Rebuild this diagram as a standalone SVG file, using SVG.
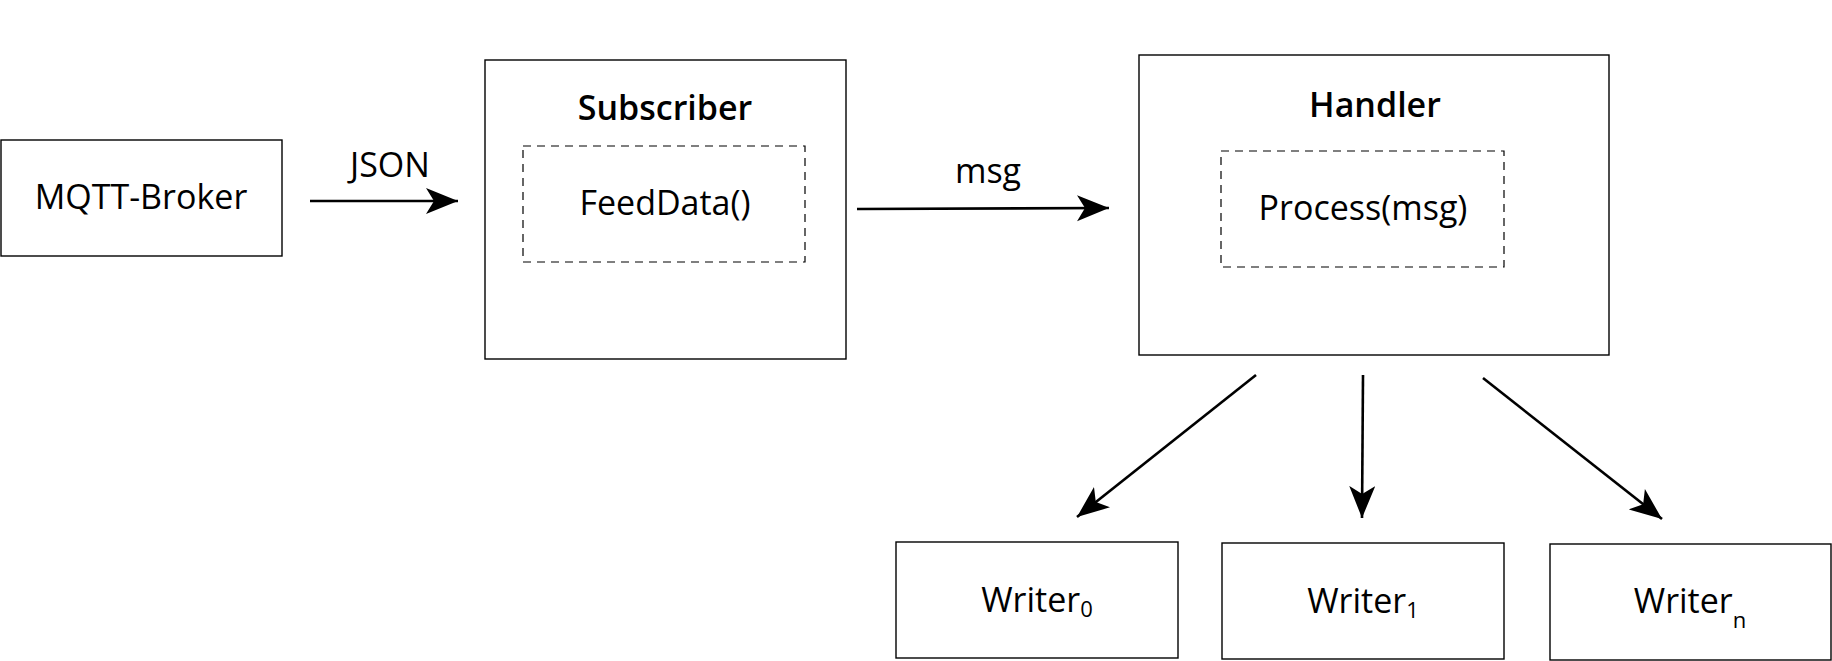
<svg xmlns="http://www.w3.org/2000/svg" width="1832" height="661" viewBox="0 0 1832 661">
<style>
.box{fill:#fff;stroke:#000;stroke-width:1.4}
.dash{fill:none;stroke:#000;stroke-width:1.2;stroke-dasharray:8,6}
.t{font-family:"Open Sans","Liberation Sans",sans-serif;font-size:34px;fill:#000;text-anchor:middle}
.b{font-weight:600;font-size:34px}
.sub{font-size:22px}
.c{fill:none;stroke:#000;stroke-width:2.6}
</style>
<defs>
<marker id="ah" markerUnits="userSpaceOnUse" markerWidth="34" markerHeight="28" refX="32" refY="13" orient="auto" viewBox="0 0 34 28">
<path d="M0,0 L32,13 L0,26 L8,13 Z" fill="#000"/>
</marker>
</defs>
<rect width="1832" height="661" fill="#fff"/>
<g id="mqtt-broker">
<rect class="box" x="1" y="140" width="281" height="116"/>
<text class="t" x="141" y="209">MQTT-Broker</text>
</g>
<g id="subscriber">
<rect class="box" x="485" y="60" width="361" height="299"/>
<text class="t b" x="665" y="120">Subscriber</text>
<rect class="dash" x="523" y="146" width="282" height="116"/>
<text class="t" x="665" y="215">FeedData()</text>
</g>
<g id="handler">
<rect class="box" x="1139" y="55" width="470" height="300"/>
<text class="t b" x="1375" y="117">Handler</text>
<rect class="dash" x="1221" y="151" width="283" height="116"/>
<text class="t" x="1363" y="220">Process(msg)</text>
</g>
<g id="writer0">
<rect class="box" x="896" y="542" width="282" height="116"/>
<text class="t" x="1037" y="612">Writer<tspan class="sub" dy="5">0</tspan></text>
</g>
<g id="writer1">
<rect class="box" x="1222" y="543" width="282" height="116"/>
<text class="t" x="1363" y="613">Writer<tspan class="sub" dy="5">1</tspan></text>
</g>
<g id="writern">
<rect class="box" x="1550" y="544" width="281" height="116"/>
<text class="t" x="1690" y="613">Writer<tspan class="sub" dy="15">n</tspan></text>
</g>
<g id="connectors">
<line class="c" x1="310" y1="201" x2="458" y2="201" marker-end="url(#ah)"/>
<text class="t" x="390" y="177">JSON</text>
<line class="c" x1="857" y1="209" x2="1109" y2="208" marker-end="url(#ah)"/>
<text class="t" x="988" y="183">msg</text>
<line class="c" x1="1256" y1="375" x2="1077" y2="517" marker-end="url(#ah)"/>
<line class="c" x1="1363" y1="375" x2="1362" y2="518" marker-end="url(#ah)"/>
<line class="c" x1="1483" y1="378" x2="1662" y2="519" marker-end="url(#ah)"/>
</g>
</svg>
